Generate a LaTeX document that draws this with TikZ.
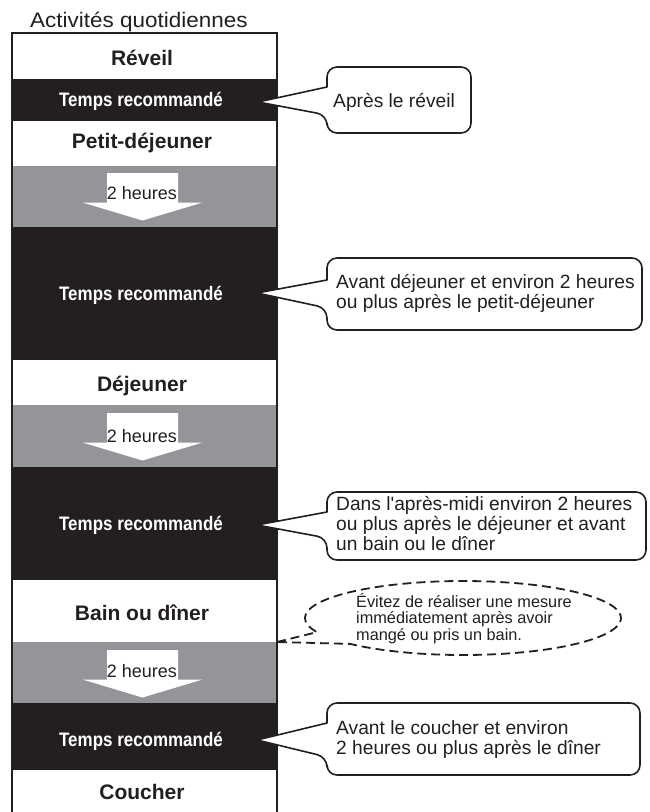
\documentclass[tikz,border=0pt]{standalone}
\usepackage{fontspec}
\setmainfont{Liberation Sans}[Ligatures=TeXOff]
\newfontfamily\condfont[FakeStretch=0.87]{Liberation Sans}
\newfontfamily\titlefont[FakeStretch=1.07]{Liberation Sans}
\usetikzlibrary{calc}
\definecolor{ink}{HTML}{231F20}
\definecolor{bandgray}{HTML}{939598}
\tikzset{
  heading/.style={font=\bfseries\fontsize{21}{22}\selectfont, text=ink, anchor=base, inner sep=0pt},
  rec/.style={font=\condfont\bfseries\fontsize{19.5}{20}\selectfont, text=white, anchor=base, inner sep=0pt},
  hours/.style={font=\fontsize{18}{18}\selectfont, text=ink, anchor=base, inner sep=0pt},
  bubtext/.style={font=\fontsize{19.2}{19.8}\selectfont, text=ink, align=left, anchor=base west, inner sep=0pt},
  notetext/.style={font=\fontsize{16.3}{16.5}\selectfont, text=ink, align=left, anchor=base west, inner sep=0pt},
  bubble/.style={draw=ink, fill=white, line width=1.6pt, line join=round},
  dashbubble/.style={draw=ink, line width=1.8pt, dash pattern=on 9pt off 5pt},
  darkband/.style={fill=ink},
  grayband/.style={fill=bandgray},
  downarrow/.pic={\fill[white] (-35.5,0) -- (35.5,0) -- (35.5,-29.5) -- (60,-29.5) -- (0,-47.5) -- (-60,-29.5) -- (-35.5,-29.5) -- cycle;}
}
\begin{document}
\begin{tikzpicture}[x=1pt,y=1pt]
\useasboundingbox[fill=white] (0,0) rectangle (650,-812);

% title
\node[font=\titlefont\fontsize{21}{22}\selectfont, text=ink, anchor=base west, inner sep=0pt] (title) at (30,-27) {Activités quotidiennes};

% bands
\fill[darkband] (12,-79) rectangle (277,-121);
\fill[grayband] (12,-166) rectangle (277,-227);
\fill[darkband] (12,-227) rectangle (277,-360);
\fill[grayband] (12,-405) rectangle (277,-467);
\fill[darkband] (12,-467) rectangle (277,-580);
\fill[grayband] (12,-642) rectangle (277,-703);
\fill[darkband] (12,-703) rectangle (277,-770);

% arrows
\pic at (142.5,-173) {downarrow};
\pic at (142.5,-413) {downarrow};
\pic at (142.5,-650) {downarrow};

% column border
\draw[ink, line width=1.8pt] (12,-812) -- (12,-33) -- (277,-33) -- (277,-812);

% band texts
\node[heading] (reveil) at (142,-65) {Réveil};
\node[rec] (tr1) at (141,-106) {Temps recommandé};
\node[heading] (petitdej) at (142,-148) {Petit-déjeuner};
\node[hours] (h1) at (142,-199) {2 heures};
\node[rec] (tr2) at (141,-300) {Temps recommandé};
\node[heading] (dej) at (142,-391) {Déjeuner};
\node[hours] (h2) at (142,-442) {2 heures};
\node[rec] (tr3) at (141,-530) {Temps recommandé};
\node[heading] (bain) at (142,-620) {Bain ou dîner};
\node[hours] (h3) at (142,-677) {2 heures};
\node[rec] (tr4) at (141,-746) {Temps recommandé};
\node[heading] (coucher) at (142,-799) {Coucher};

% callout tips
\coordinate (t1) at (258,-102);
\coordinate (t2) at (257,-293);
\coordinate (t3) at (257,-525);
\coordinate (t4) at (257,-740);
\coordinate (t5) at (277,-642);

% callout 1
\draw[bubble] (327,-87) [rounded corners=10pt] -- (327,-67) -- (471,-67) -- (471,-133) -- (327,-133) -- (327,-115) [sharp corners] -- (t1) -- cycle;
\node[bubtext] (c1) at (333,-107) {Après le réveil};

% callout 2
\draw[bubble] (327,-280) [rounded corners=10pt] -- (327,-258) -- (642,-258) -- (642,-330) -- (327,-330) -- (327,-308) [sharp corners] -- (t2) -- cycle;
\node[bubtext] (c2) at (336,-308) {Avant déjeuner et environ 2 heures\\ou plus après le petit-déjeuner};

% callout 3
\draw[bubble] (327,-512) [rounded corners=10pt] -- (327,-492) -- (646,-492) -- (646,-560) -- (327,-560) -- (327,-538) [sharp corners] -- (t3) -- cycle;
\node[bubtext] (c3) at (336,-550) {Dans l'après-midi environ 2 heures\\ou plus après le déjeuner et avant\\un bain ou le dîner};

% dashed note
\coordinate (ec) at (463,-618);
\draw[dashbubble] (t5) -- ($(ec)+(202.4:158 and 37)$) arc[start angle=202.4, end angle=-135.6, x radius=158, y radius=37] -- cycle;
\node[notetext] (note) at (356,-640) {Évitez de réaliser une mesure\\immédiatement après avoir\\mangé ou pris un bain.};

% callout 4
\draw[bubble] (327,-723) [rounded corners=10pt] -- (327,-703) -- (640,-703) -- (640,-775) -- (327,-775) -- (327,-757) [sharp corners] -- (t4) -- cycle;
\node[bubtext] (c4) at (336,-754) {Avant le coucher et environ\\2 heures ou plus après le dîner};
\end{tikzpicture}
\end{document}
